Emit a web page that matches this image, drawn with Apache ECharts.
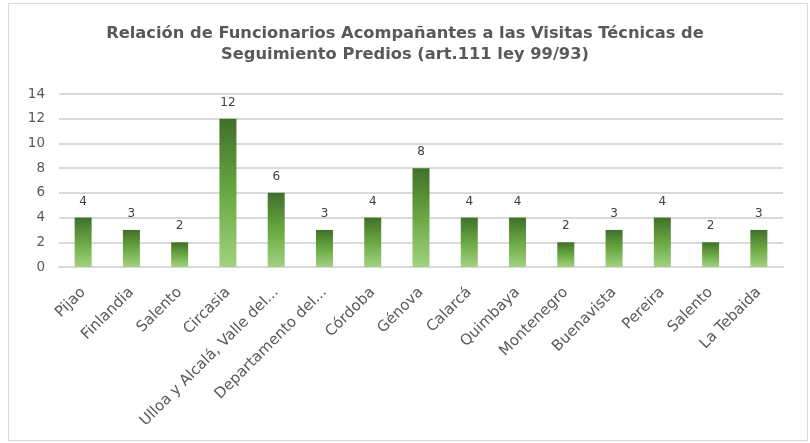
<!DOCTYPE html>
<html>
<head>
<meta charset="utf-8">
<script src="https://cdn.jsdelivr.net/npm/echarts@6/dist/echarts.min.js"></script>
<style>
  html, body { margin: 0; padding: 0; background: #fff; }
  #wrap { position: absolute; left: 8px; top: 3px; width: 798px; height: 436px; border: 1px solid #d9d9d9; }
  #chart { position: absolute; left: 0; top: 0; width: 810px; height: 443px; }
</style>
</head>
<body>
<div id="wrap"></div>
<div id="chart"></div>
<script>
// municipios (as printed on the axis)
const categories = [
  "Pijao", "Finlandia", "Salento", "Circasia", "Ulloa y Alcalá, Valle del...",
  "Departamento del...", "Córdoba", "Génova", "Calarcá", "Quimbaya",
  "Montenegro", "Buenavista", "Pereira", "Salento", "La Tebaida"
];
// funcionarios acompañantes
const values = [4, 3, 2, 12, 6, 3, 4, 8, 4, 4, 2, 3, 4, 2, 3];
const yTicks = [0, 2, 4, 6, 8, 10, 12, 14];

const myChart = echarts.init(document.getElementById("chart"));
const option = {
  animation: false,
  title: {
    text: "Relación de Funcionarios Acompañantes a las Visitas Técnicas de\nSeguimiento Predios (art.111 ley 99/93)",
    left: "center",
    top: 18,
    textStyle: {
      fontFamily: "DejaVu Sans",
      fontSize: 16.3,
      fontWeight: "bold",
      color: "#595959",
      lineHeight: 21
    }
  },
  grid: { left: 59, right: 27, top: 94, bottom: 176 },
  xAxis: {
    type: "category",
    data: categories,
    axisLine: { lineStyle: { color: "#d9d9d9", width: 2 } },
    axisTick: { show: false },
    axisLabel: {
      rotate: 45,
      interval: 0,
      margin: 23,
      fontFamily: "DejaVu Sans",
      fontSize: 15,
      color: "#595959"
    }
  },
  yAxis: {
    type: "value",
    min: yTicks[0],
    max: yTicks[yTicks.length - 1],
    interval: 2,
    axisLine: { show: false },
    axisTick: { show: false },
    splitLine: { lineStyle: { color: "#d9d9d9", width: 2 } },
    axisLabel: {
      margin: 14,
      fontFamily: "DejaVu Sans",
      fontSize: 13.5,
      color: "#595959"
    }
  },
  series: [
    {
      type: "bar",
      data: values,
      barWidth: 17,
      itemStyle: {
        color: new echarts.graphic.LinearGradient(0, 0, 0, 1, [
          { offset: 0, color: "#40702a" },
          { offset: 0.5, color: "#6aa842" },
          { offset: 1, color: "#a2d281" }
        ])
      },
      label: {
        show: true,
        position: "top",
        distance: 10,
        fontFamily: "DejaVu Sans",
        fontSize: 12,
        color: "#404040"
      }
    }
  ]
};
myChart.setOption(option);

window.addEventListener("resize", function () {
  myChart.resize();
});
</script>
</body>
</html>
